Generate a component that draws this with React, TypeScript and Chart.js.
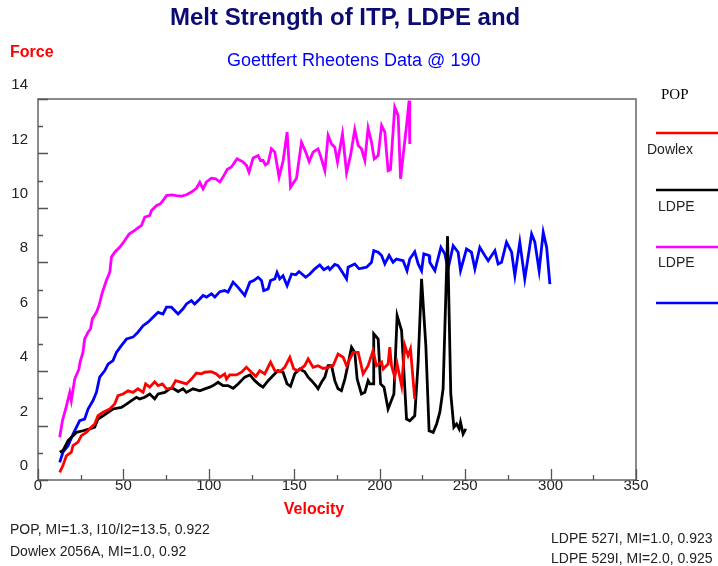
import React, { useEffect, useRef } from 'react';
import { Chart, registerables } from 'chart.js';

Chart.register(...registerables);

const TITLE = 'Melt Strength of ITP, LDPE and';
const SUBTITLE = 'Goettfert Rheotens Data @ 190';
const Y_TITLE = 'Force';
const X_TITLE = 'Velocity';
const NOTES_LEFT = ['POP, MI=1.3, I10/I2=13.5, 0.922', 'Dowlex 2056A, MI=1.0, 0.92'];
const NOTES_RIGHT = ['LDPE 527I, MI=1.0, 0.923', 'LDPE 529I, MI=2.0, 0.925'];

const SERIES_NAMES = ['POP', 'Dowlex', 'LDPE', 'LDPE'];
const SERIES_COLORS = ['#ff0000', '#000000', '#ff00ff', '#0000ff'];

const popVelocity = [12.7, 14.6, 16.6, 19.5, 20.5, 23.4, 25.4, 28.3, 30.3, 33.2, 35.1, 38.1, 42, 44.9, 46.8, 49.8, 52.7, 55.6, 58.5, 61.5, 63, 65.4, 68.3, 70.3, 72.8, 75.2, 78.1, 80.6, 84, 86.9, 89.8, 92.7, 95.7, 97.6, 101.5, 104.4, 106.4, 109.3, 110.3, 112.2, 116.2, 119.1, 122, 124.9, 127.5, 129.8, 132.7, 136.1, 138.6, 141.5, 144.4, 147.4, 149.7, 152.2, 156.1, 158.1, 161, 163.9, 166.9, 169.8, 172.7, 175.6, 178.6, 180.6, 184.4, 187.4, 190.3, 193.2, 196.1, 198.1, 201.1, 202, 204.9, 205.9, 206.9, 208.8, 210.2, 212.8, 214.7, 216.6, 218, 220.5];
const popForce = [0.28, 0.53, 0.89, 1.02, 1.26, 1.39, 1.63, 1.75, 1.88, 2.06, 2.36, 2.49, 2.61, 2.79, 3.1, 3.16, 3.28, 3.22, 3.35, 3.22, 3.53, 3.41, 3.61, 3.47, 3.53, 3.35, 3.37, 3.65, 3.59, 3.53, 3.71, 3.93, 3.9, 3.96, 3.98, 3.9, 3.78, 3.9, 3.71, 3.86, 3.86, 3.96, 4.14, 3.96, 3.81, 4.02, 3.9, 4.33, 4.02, 3.98, 4.14, 4.51, 4.08, 4.02, 4.2, 4.45, 4.14, 4.2, 4.1, 4.14, 4.2, 4.63, 4.51, 4.2, 4.69, 4.69, 3.9, 4.2, 4.75, 4.2, 4.33, 4.08, 4.26, 4.88, 4.2, 3.78, 4.26, 3.47, 4.94, 4.57, 4.82, 2.98];

const dowlexVelocity = [12.7, 14.6, 17.6, 20.5, 22.5, 26.3, 30.3, 33.2, 35.1, 38.1, 41, 43.9, 48.8, 51.8, 54.7, 57.6, 59.5, 62.5, 65.4, 68.3, 70.3, 74.2, 77.1, 79, 82, 84.9, 86.9, 90.7, 94.7, 97.6, 100.5, 102.5, 105.4, 108.3, 111.2, 114.2, 117.1, 121, 124, 126.9, 129.8, 131.7, 134.7, 137.6, 140.5, 143.4, 145.8, 147.8, 150.3, 153.2, 156.1, 158.1, 160.1, 162.6, 163.9, 165.9, 167.9, 169.8, 171.8, 173.7, 175.6, 177.6, 179.6, 181.5, 183.5, 185.4, 186.8, 189.3, 191.3, 193.2, 194.2, 196.1, 196.5, 199.1, 200.5, 202.5, 204.9, 208.3, 210.2, 212.8, 215.7, 217.6, 220.5, 222.5, 224.5, 227, 228.9, 231.3, 233.3, 235.2, 237.1, 239.7, 241.6, 243.4, 245, 246.5, 247.3, 248.8, 250.4];
const dowlexForce = [1.02, 1.08, 1.45, 1.63, 1.75, 1.81, 1.88, 1.94, 2.24, 2.36, 2.49, 2.61, 2.67, 2.79, 2.92, 3.04, 2.98, 3.04, 3.16, 2.98, 3.16, 3.22, 3.35, 3.37, 3.25, 3.35, 3.22, 3.35, 3.28, 3.35, 3.41, 3.47, 3.59, 3.47, 3.47, 3.37, 3.53, 3.78, 3.86, 3.65, 3.49, 3.41, 3.65, 3.84, 4.02, 3.96, 3.53, 3.44, 3.9, 4.08, 3.98, 3.78, 3.65, 3.47, 3.35, 3.59, 3.78, 4.2, 4.2, 3.65, 3.35, 3.28, 3.71, 4.26, 4.88, 4.69, 3.71, 3.16, 3.22, 3.65, 3.53, 3.53, 5.37, 5.18, 3.53, 3.41, 2.61, 3.16, 6.04, 5.49, 2.24, 2.18, 2.36, 4.33, 7.39, 4.94, 1.81, 1.75, 2.06, 2.49, 3.35, 8.96, 3.16, 1.94, 2.06, 1.88, 2.12, 1.69, 1.88];

const ldpe527Velocity = [12.7, 14.3, 16.2, 18.6, 19.5, 21.5, 24, 24.6, 26.3, 27.3, 29.3, 30.7, 31.8, 34.2, 35.7, 37.7, 40, 42, 43, 44.9, 47.8, 50.8, 53.3, 56.6, 59.1, 60.5, 62.5, 65.4, 66.4, 69.3, 71.6, 73.2, 75.2, 78.1, 81, 84, 86.9, 89.8, 92.7, 94.7, 96.6, 98.6, 101.5, 104, 106.4, 108.3, 110.7, 113.2, 116.5, 119.7, 122, 123.5, 125.9, 128.8, 130.2, 131.7, 133.1, 134.7, 136.6, 138.6, 141.1, 143.5, 145.8, 147.8, 151.3, 154.2, 156.7, 158.7, 161, 163.9, 165.3, 167.9, 169.8, 171.8, 173.7, 175.3, 178.2, 180.6, 182.9, 185.4, 187.4, 189.3, 191.3, 193.2, 195.2, 196.8, 199.1, 201.1, 203, 204.9, 206.3, 208.8, 210.8, 212.2, 213.7, 215.7, 217.2, 217.6];
const ldpe527Force = [1.57, 2.18, 2.61, 3.22, 2.92, 3.71, 4.08, 4.33, 4.69, 5.18, 5.43, 5.55, 5.92, 6.16, 6.41, 6.9, 7.33, 7.63, 8.19, 8.37, 8.55, 8.8, 9.04, 9.17, 9.29, 9.35, 9.66, 9.72, 9.9, 10.08, 10.15, 10.27, 10.45, 10.48, 10.45, 10.43, 10.48, 10.58, 10.72, 10.94, 10.7, 10.95, 11.09, 11.07, 10.95, 11.13, 11.41, 11.5, 11.8, 11.7, 11.56, 11.31, 11.83, 11.92, 11.74, 11.74, 11.58, 11.65, 12.17, 12.05, 11.13, 11.74, 12.78, 10.76, 11.09, 12.41, 12.05, 11.7, 12.05, 12.17, 11.92, 11.37, 12.66, 12.35, 12.23, 11.68, 12.72, 11.29, 11.92, 12.88, 12.29, 12.17, 11.74, 12.93, 12.41, 11.8, 11.92, 13.03, 12.78, 11.37, 11.41, 13.7, 13.39, 11.07, 11.92, 13.03, 13.94, 12.35];

const ldpe529Velocity = [12.7, 14.6, 17.6, 20.5, 24.4, 27.3, 29.3, 32.2, 34.2, 36.1, 39.1, 41, 43.9, 45.9, 48.8, 51.8, 55.6, 58.5, 61.5, 64.4, 67.3, 70.3, 73.2, 75.2, 78.1, 82, 84.9, 86.9, 89.8, 91.7, 94.7, 96.6, 98.6, 101.5, 103.5, 106.4, 109.3, 111.2, 114.2, 117.1, 121, 124, 126.3, 128.8, 130.8, 132.1, 134.7, 136.1, 138.6, 139.9, 141.5, 143.4, 145.8, 148.4, 150.9, 152.8, 156.7, 159.1, 162, 164.9, 167.3, 169.8, 170.8, 173.7, 175.6, 177.6, 180.6, 181.5, 185.4, 187.9, 192.3, 195.2, 196.5, 199.1, 201.1, 203, 205.5, 207.8, 209.8, 213.7, 216, 217.6, 220.5, 222.5, 224.5, 225.8, 228.9, 229.3, 232.3, 235.8, 238.1, 240, 243, 245.9, 247.3, 250.8, 253.7, 255.7, 258.6, 261.5, 263.5, 267.4, 269.3, 271.3, 274.2, 277.2, 279.1, 282, 284.9, 288.9, 290.8, 293.3, 295.7, 297.7, 299.6];
const ldpe529Force = [0.65, 1.02, 1.26, 1.69, 2.18, 2.24, 2.61, 2.92, 3.22, 3.78, 4.02, 4.26, 4.39, 4.69, 4.94, 5.18, 5.25, 5.43, 5.67, 5.8, 5.98, 6.16, 6.1, 6.35, 6.35, 6.1, 6.29, 6.47, 6.59, 6.47, 6.65, 6.78, 6.72, 6.84, 6.72, 6.92, 6.96, 6.9, 7.27, 7.08, 6.78, 7.27, 7.33, 7.45, 7.33, 6.96, 7.02, 7.33, 7.39, 7.63, 7.39, 7.51, 7.14, 7.57, 7.54, 7.66, 7.45, 7.57, 7.76, 7.9, 7.73, 7.82, 7.73, 7.92, 7.88, 7.69, 7.39, 7.82, 7.94, 7.76, 7.82, 8.0, 8.43, 8.37, 8.25, 7.94, 8.25, 8.0, 8.12, 8.06, 7.69, 8.12, 8.39, 7.94, 7.69, 8.31, 8.25, 8.0, 7.69, 8.55, 8.31, 7.76, 8.61, 8.37, 7.69, 8.49, 8.37, 7.76, 8.55, 8.25, 8.06, 8.43, 7.94, 8.0, 8.74, 8.37, 7.51, 8.74, 7.39, 9.04, 8.74, 7.69, 9.1, 8.55, 7.2];

const X_MIN = 0;
const X_MAX = 350;
const X_STEP = 50;
const Y_MIN = 0;
const Y_MAX = 14;
const Y_STEP = 2;

const SANS = '"Liberation Sans", Arial, sans-serif';
const SERIF = '"Liberation Serif", "Times New Roman", serif';

const toPoints = (xs: number[], ys: number[]) => xs.map((x, i) => ({ x, y: ys[i] }));

const decorPlugin = {
  id: 'decor',
  afterDraw(chart: any) {
    const { ctx, chartArea: a, scales } = chart;
    const xs = scales.x;
    const ys = scales.y;
    ctx.save();
    // frame
    ctx.strokeStyle = '#666';
    ctx.lineWidth = 1.5;
    ctx.beginPath();
    ctx.moveTo(a.left, a.bottom);
    ctx.lineTo(a.left, a.top);
    ctx.lineTo(a.right, a.top);
    ctx.lineTo(a.right, a.bottom);
    ctx.lineTo(a.left, a.bottom);
    ctx.stroke();
    // inward tick marks
    ctx.strokeStyle = '#555';
    ctx.lineWidth = 1.3;
    ctx.beginPath();
    for (let v = Y_MIN; v <= Y_MAX; v += Y_STEP / 2) {
      const py = Math.round(ys.getPixelForValue(v)) + 0.5;
      const len = v % Y_STEP === 0 ? 10 : 5;
      ctx.moveTo(a.left, py);
      ctx.lineTo(a.left + len, py);
    }
    for (let v = X_MIN; v <= X_MAX; v += X_STEP / 2) {
      const px = Math.round(xs.getPixelForValue(v)) + 0.5;
      const len = v % X_STEP === 0 ? 11 : 5;
      ctx.moveTo(px, a.bottom);
      ctx.lineTo(px, a.bottom - len);
    }
    ctx.stroke();

    // titles
    ctx.textBaseline = 'alphabetic';
    ctx.textAlign = 'left';
    ctx.fillStyle = '#0b0b72';
    ctx.font = `bold 24px ${SANS}`;
    ctx.fillText(TITLE, 170, 25);
    ctx.fillStyle = '#0000ff';
    ctx.font = `18px ${SANS}`;
    ctx.fillText(SUBTITLE, 227, 66);

    ctx.textBaseline = 'middle';
    ctx.fillStyle = '#ff0000';
    ctx.font = `bold 16px ${SANS}`;
    ctx.fillText(Y_TITLE, 10, 53);
    ctx.textAlign = 'center';
    ctx.fillText(X_TITLE, 314, 510);

    // notes
    ctx.textAlign = 'left';
    ctx.fillStyle = '#222';
    ctx.font = `14px ${SANS}`;
    ctx.fillText(NOTES_LEFT[0], 10, 530);
    ctx.fillText(NOTES_LEFT[1], 10, 552);
    ctx.fillText(NOTES_RIGHT[0], 551, 539);
    ctx.fillText(NOTES_RIGHT[1], 551, 559);

    // legend
    const labelY = [95, 150, 207, 263];
    const labelX = [661, 647, 658, 658];
    const lineY = [133, 190, 247, 303];
    chart.data.datasets.forEach((ds: any, i: number) => {
      ctx.fillStyle = i === 0 ? '#000' : '#222';
      ctx.font = i === 0 ? `15px ${SERIF}` : `14px ${SANS}`;
      ctx.fillText(ds.label, labelX[i], labelY[i]);
      ctx.strokeStyle = ds.borderColor;
      ctx.lineWidth = 2.5;
      ctx.beginPath();
      ctx.moveTo(656, lineY[i]);
      ctx.lineTo(718, lineY[i]);
      ctx.stroke();
    });
    ctx.restore();
  },
};

export default function App() {
  const canvasRef = useRef<HTMLCanvasElement | null>(null);

  useEffect(() => {
    if (!canvasRef.current) return;
    const series = [
      toPoints(popVelocity, popForce),
      toPoints(dowlexVelocity, dowlexForce),
      toPoints(ldpe527Velocity, ldpe527Force),
      toPoints(ldpe529Velocity, ldpe529Force),
    ];
    const chart = new Chart(canvasRef.current, {
      type: 'line',
      data: {
        datasets: series.map((data, i) => ({
          label: SERIES_NAMES[i],
          data,
          borderColor: SERIES_COLORS[i],
          backgroundColor: SERIES_COLORS[i],
          borderWidth: 2.8,
          pointRadius: 0,
          tension: 0,
          fill: false,
        })),
      },
      options: {
        animation: false,
        responsive: false,
        devicePixelRatio: 1,
        layout: { padding: { left: 0, top: 99, right: 82, bottom: 66 } },
        plugins: {
          legend: { display: false },
          tooltip: { enabled: false },
          title: { display: false },
        },
        scales: {
          x: {
            type: 'linear',
            min: X_MIN,
            max: X_MAX,
            grid: { display: false, drawTicks: false },
            border: { display: false },
            ticks: {
              stepSize: X_STEP,
              autoSkip: false,
              maxRotation: 0,
              padding: -3,
              color: '#222',
              font: { size: 15, family: SANS },
            },
            afterFit: (s: any) => { s.height = 20; },
          },
          y: {
            type: 'linear',
            min: Y_MIN,
            max: Y_MAX,
            grid: { display: false, drawTicks: false },
            border: { display: false },
            ticks: {
              stepSize: Y_STEP,
              autoSkip: false,
              padding: 10,
              labelOffset: -14,
              color: '#222',
              font: { size: 15, family: SANS },
            },
            afterFit: (s: any) => { s.width = 38; },
          },
        },
      },
      plugins: [decorPlugin],
    } as any);
    return () => chart.destroy();
  }, []);

  return (
    <div style={{ position: 'absolute', left: 0, top: 0, width: 718, height: 566, background: '#fff' }}>
      <canvas ref={canvasRef} width={718} height={566} style={{ display: 'block' }} />
    </div>
  );
}
